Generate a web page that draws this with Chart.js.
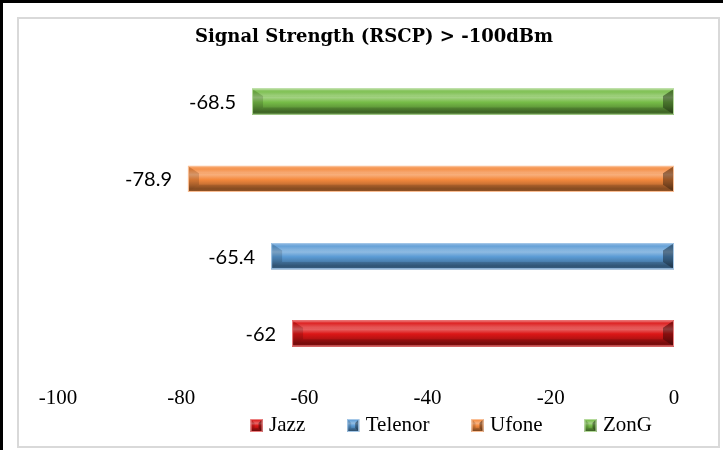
<!DOCTYPE html>
<html>
<head>
<meta charset="utf-8">
<script src="https://cdn.jsdelivr.net/npm/chart.js@4"></script>
<style>
html,body{margin:0;padding:0;background:#fff;overflow:hidden;}
#wrap{position:relative;width:723px;height:450px;background:#fff;}
#c{position:absolute;left:0;top:0;}
.frame{position:absolute;left:17px;top:17px;width:699px;height:427px;border:2px solid #d9d9d9;pointer-events:none;}
.edgeTop{position:absolute;left:0;top:0;width:723px;height:3px;background:#000;}
.edgeLeft{position:absolute;left:0;top:0;width:3px;height:450px;background:#000;}
</style>
</head>
<body>
<div id="wrap">
  <canvas id="c" width="723" height="450"></canvas>
  <div class="frame"></div>
  <div class="edgeTop"></div>
  <div class="edgeLeft"></div>
</div>
<script>
// ---- data ----
const chartTitle = 'Signal Strength (RSCP) > -100dBm';
const categoryLabels = ['RSCP'];
const seriesNames = ['Jazz', 'Telenor', 'Ufone', 'ZonG'];
const seriesValues = [-62, -65.4, -78.9, -68.5];
const xTickValues = [-100, -80, -60, -40, -20, 0];
const seriesColors = ['#DC1616', '#5B9BD5', '#F58A3E', '#76BC47'];

// ---- helpers ----
function hexToRgb(h) {
  const n = parseInt(h.slice(1), 16);
  return [(n >> 16) & 255, (n >> 8) & 255, n & 255];
}
function mix(h, target, t) {
  const c = hexToRgb(h);
  const tv = target === 'white' ? 255 : 0;
  const m = c.map(v => Math.round(v + (tv - v) * t));
  return 'rgb(' + m.join(',') + ')';
}
function drawBevelRect(ctx, L, R, T, B, color, bw, bv) {
  const g = ctx.createLinearGradient(0, T, 0, B);
  g.addColorStop(0, mix(color, 'white', 0.25));
  g.addColorStop(0.12, color);
  g.addColorStop(0.34, mix(color, 'white', 0.32));
  g.addColorStop(0.52, color);
  g.addColorStop(0.68, mix(color, 'black', 0.15));
  g.addColorStop(0.88, mix(color, 'black', 0.38));
  g.addColorStop(1, mix(color, 'black', 0.3));
  ctx.fillStyle = g;
  ctx.fillRect(L, T, R - L, B - T);
  // left facet
  ctx.beginPath();
  ctx.moveTo(L, T); ctx.lineTo(L + bw, T + bv); ctx.lineTo(L + bw, B - bv); ctx.lineTo(L, B); ctx.closePath();
  ctx.fillStyle = 'rgba(0,0,0,0.14)';
  ctx.fill();
  // right facet
  ctx.beginPath();
  ctx.moveTo(R, T); ctx.lineTo(R - bw, T + bv); ctx.lineTo(R - bw, B - bv); ctx.lineTo(R, B); ctx.closePath();
  ctx.fillStyle = 'rgba(0,0,0,0.38)';
  ctx.fill();
  // bottom facet
  ctx.beginPath();
  ctx.moveTo(L, B); ctx.lineTo(L + bw, B - bv); ctx.lineTo(R - bw, B - bv); ctx.lineTo(R, B); ctx.closePath();
  ctx.fillStyle = 'rgba(0,0,0,0.12)';
  ctx.fill();
  // top facet
  ctx.beginPath();
  ctx.moveTo(L, T); ctx.lineTo(L + bw, T + bv); ctx.lineTo(R - bw, T + bv); ctx.lineTo(R, T); ctx.closePath();
  ctx.fillStyle = 'rgba(255,255,255,0.08)';
  ctx.fill();
  ctx.strokeStyle = mix(color, 'white', 0.45);
  ctx.lineWidth = 1;
  ctx.strokeRect(L + 0.5, T + 0.5, R - L - 1, B - T - 1);
}

// datasets ordered top-to-bottom (ZonG at top, Jazz at bottom)
const order = [3, 2, 1, 0];
const datasets = order.map(i => ({
  label: seriesNames[i],
  data: [seriesValues[i]],
  backgroundColor: seriesColors[i],
  borderWidth: 0
}));

const bevelPlugin = {
  id: 'bevel',
  afterDatasetsDraw(chart) {
    const ctx = chart.ctx;
    ctx.save();
    chart.data.datasets.forEach((ds, di) => {
      const meta = chart.getDatasetMeta(di);
      meta.data.forEach((el, idx) => {
        const p = el.getProps(['x', 'y', 'base', 'height'], true);
        const L = Math.min(p.x, p.base), R = Math.max(p.x, p.base);
        const T = p.y - p.height / 2, B = p.y + p.height / 2;
        drawBevelRect(ctx, L, R, T, B, ds.backgroundColor, 11, p.height * 0.28);
        // value label
        ctx.fillStyle = '#000';
        ctx.font = '20px Lato';
        ctx.textAlign = 'right';
        ctx.textBaseline = 'middle';
        ctx.fillText(String(ds.data[idx]), L - 16, p.y + 1);
      });
    });
    ctx.restore();
  }
};

const legendMarkerPlugin = {
  id: 'legendMarkers',
  afterLayout(chart) {
    // Excel places the legend slightly left of the plot's right edge and the title slightly right
    if (chart.legend) chart.legend.right = chart.chartArea.right - 16;
    if (chart.titleBlock) chart.titleBlock.left += 16;
  },
  afterDraw(chart) {
    const lg = chart.legend;
    if (!lg || !lg.legendItems) return;
    const ctx = chart.ctx;
    const bw = lg.options.labels.boxWidth;
    ctx.save();
    lg.legendItems.forEach((item, i) => {
      const hb = lg.legendHitBoxes[i];
      const ds = chart.data.datasets[item.datasetIndex];
      const x = hb.left + bw - 8;
      const y = hb.top + (hb.height - 13) / 2;
      drawBevelRect(ctx, x, x + 12, y, y + 13, ds.backgroundColor, 4, 4);
    });
    ctx.restore();
  }
};

new Chart(document.getElementById('c'), {
  type: 'bar',
  data: { labels: categoryLabels, datasets },
  plugins: [bevelPlugin, legendMarkerPlugin],
  options: {
    indexAxis: 'y',
    responsive: false,
    animation: false,
    devicePixelRatio: 1,
    categoryPercentage: 1.0,
    barPercentage: 0.338,
    layout: { padding: { left: 58, right: 49, top: 0, bottom: 4 } },
    scales: {
      x: {
        type: 'linear',
        min: -100,
        max: 0,
        afterBuildTicks(scale) { scale.ticks = xTickValues.map(v => ({ value: v })); },
        afterFit(scale) { scale.height -= 8; },
        grid: { display: false },
        border: { display: false },
        ticks: {
          color: '#000',
          padding: 8,
          font: { family: 'Liberation Serif', size: 21, lineHeight: 1 },
          maxRotation: 0
        }
      },
      y: { display: false }
    },
    plugins: {
      title: {
        display: true,
        text: chartTitle,
        color: '#000',
        font: { family: 'DejaVu Serif', size: 18, weight: 'bold', lineHeight: 1.2 },
        padding: { top: 27, bottom: 14.5 }
      },
      legend: {
        position: 'bottom',
        align: 'end',
        reverse: true,
        labels: {
          color: '#000',
          font: { family: 'Liberation Serif', size: 21 },
          boxWidth: 44,
          boxHeight: 13,
          padding: 6,
          generateLabels(chart) {
            const items = Chart.defaults.plugins.legend.labels.generateLabels(chart);
            return items.map(it => Object.assign(it, { fillStyle: 'rgba(0,0,0,0)', strokeStyle: 'rgba(0,0,0,0)', lineWidth: 0 }));
          }
        }
      },
      tooltip: { enabled: false }
    }
  }
});
</script>
</body>
</html>
